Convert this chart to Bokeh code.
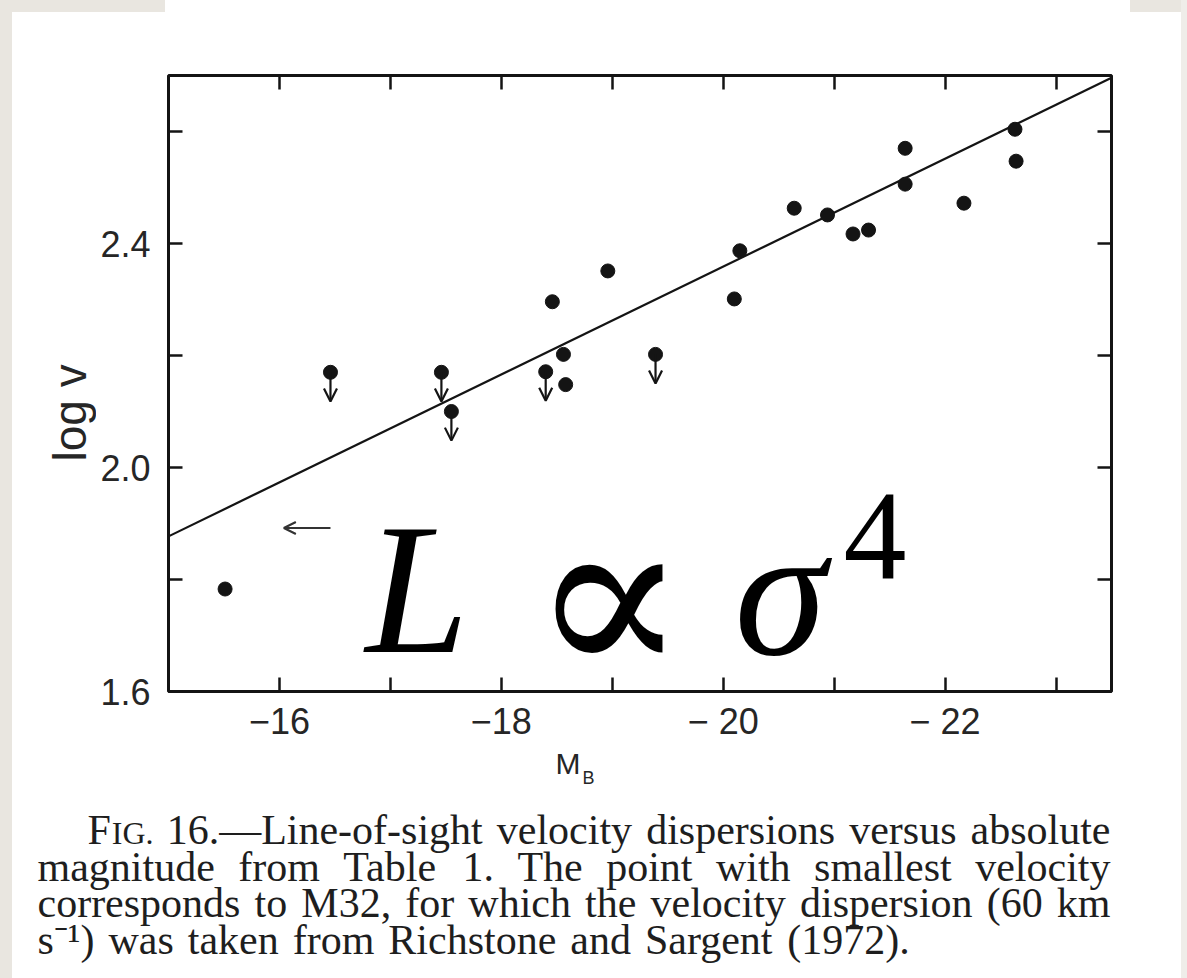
import math

from bokeh.embed import file_html
from bokeh.layouts import column, row
from bokeh.models import (Arrow, ColumnDataSource, CustomJSTickFormatter, FixedTicker,
                          Label, LinearAxis, OpenHead, Range1d, Spacer)
from bokeh.plotting import figure
from bokeh.resources import INLINE

# ---------------------------------------------------------------------------
# Data: absolute blue magnitude M_B and log of the line-of-sight velocity
# dispersion for the galaxies of Table 1.  Upper limits are flagged.
# ---------------------------------------------------------------------------
mag_b = [-15.51, -16.46, -17.46, -17.55, -18.40, -18.46, -18.56, -18.58, -18.96, -19.39,
         -20.10, -20.15, -20.64, -20.94, -21.17, -21.31, -21.64, -21.64, -22.17, -22.63,
         -22.64]
log_v = [1.783, 2.170, 2.170, 2.100, 2.171, 2.296, 2.202, 2.148, 2.351, 2.202,
         2.301, 2.387, 2.463, 2.451, 2.417, 2.424, 2.570, 2.506, 2.472, 2.604,
         2.547]
upper_limit = [False, True, True, True, True, False, False, False, False, True,
               False, False, False, False, False, False, False, False, False, False,
               False]

# L ~ sigma^4 relation drawn across the panel
fit_mag = [-15.0, -23.5]
fit_logv = [1.877, 2.696]

# horizontal arrow next to M32
m32_arrow_mag = [-16.46, -16.04]
m32_arrow_logv = [1.892, 1.892]

# axes
x_range = (-15.0, -23.5)
y_range = (1.6, 2.7)
x_ticks = [-16, -17, -18, -19, -20, -21, -22, -23]
x_label_ticks = [-16, -18, -20, -22]
x_tick_labels = ["\u221216", "\u221218", "\u2212 20", "\u2212 22"]
y_ticks = [1.6, 1.8, 2.0, 2.2, 2.4, 2.6]
y_label_ticks = [1.6, 2.0, 2.4]
y_tick_labels = ["1.6", "2.0", "2.4"]

caption_lines = [
    "FIG. 16.\u2014Line-of-sight velocity dispersions versus absolute",
    "magnitude from Table 1. The point with smallest velocity",
    "corresponds to M32, for which the velocity dispersion (60 km",
    "s\u207b\u00b9) was taken from Richstone and Sargent (1972).",
]

# ---------------------------------------------------------------------------
# Page geometry (pixels on the page)
# ---------------------------------------------------------------------------
PAGE_W, PAGE_H = 1187, 978
STRIP_L, STRIP_R, STRIP_T = 12, 6, 12
YLAB_W = 84                      # panel holding the rotated y title
PLOT_BOTTOM = 744                # plot panel ends here, caption panel below
FRAME_L, FRAME_R, FRAME_T, FRAME_B = 168, 1111, 75, 693
PLOT_X0 = STRIP_L + YLAB_W
PLOT_W = PAGE_W - STRIP_R - PLOT_X0
PLOT_H = PLOT_BOTTOM - STRIP_T
CAP_W = PAGE_W - STRIP_L - STRIP_R
CAP_H = PAGE_H - PLOT_BOTTOM
BASE_SHIFT = 0.33                # label baseline correction, in em

INK = "#141414"
TEXT = "#262626"
PAPER = "#e9e6e0"


def to_x(px):
    return x_range[0] + (px - FRAME_L) * (x_range[1] - x_range[0]) / (FRAME_R - FRAME_L)


def to_y(py):
    return y_range[0] + (FRAME_B - py) * (y_range[1] - y_range[0]) / (FRAME_B - FRAME_T)


def bare_panel(width, height):
    f = figure(width=width, height=height, x_range=Range1d(0, width),
               y_range=Range1d(height, 0), x_axis_location=None, y_axis_location=None,
               output_backend="svg", toolbar_location=None, min_border=0,
               background_fill_color="white", border_fill_color="white")
    f.grid.visible = False
    f.outline_line_color = None
    return f


# ---------------------------------------------------------------------------
# Main plot
# ---------------------------------------------------------------------------
p = figure(width=PLOT_W, height=PLOT_H,
           x_range=Range1d(*x_range), y_range=Range1d(*y_range),
           x_axis_location=None, y_axis_location=None,
           output_backend="svg", toolbar_location=None,
           min_border_left=FRAME_L - PLOT_X0, min_border_right=PAGE_W - STRIP_R - FRAME_R,
           min_border_top=FRAME_T - STRIP_T, min_border_bottom=PLOT_BOTTOM - FRAME_B,
           background_fill_color="white", border_fill_color="white")
p.grid.visible = False
p.outline_line_color = INK
p.outline_line_width = 3


def make_axis(ticks, label_ticks, labels, digits):
    lut = {f"{t:.{digits}f}": s for t, s in zip(label_ticks, labels)}
    ax = LinearAxis(ticker=FixedTicker(ticks=ticks, minor_ticks=[]),
                    formatter=CustomJSTickFormatter(
                        args=dict(lut=lut, digits=digits),
                        code="const k = tick.toFixed(digits); return (k in lut) ? lut[k] : '';"))
    ax.axis_line_color = None
    ax.major_tick_in = 14
    ax.major_tick_out = 0
    ax.major_tick_line_width = 2.5
    ax.major_tick_line_color = INK
    ax.minor_tick_line_color = None
    ax.major_label_text_font = "Liberation Sans"
    ax.major_label_text_font_size = "36px"
    ax.major_label_text_color = TEXT
    return ax


bottom = make_axis(x_ticks, x_label_ticks, x_tick_labels, 0)
bottom.major_label_standoff = 9
top = make_axis(x_ticks, [], [], 0)
top.major_label_text_font_size = "1px"
left = make_axis(y_ticks, y_label_ticks, y_tick_labels, 1)
left.major_label_standoff = 18
right = make_axis(y_ticks, [], [], 1)
right.major_label_text_font_size = "1px"
p.add_layout(bottom, "below")
p.add_layout(top, "above")
p.add_layout(left, "left")
p.add_layout(right, "right")

# fitted relation and measurements
p.line(fit_mag, fit_logv, line_width=2.2, line_color=INK)
p.scatter(mag_b, log_v, size=14, fill_color=INK, line_color=INK)

# upper limits: downward arrows hanging from the points
lim_x = [m for m, u in zip(mag_b, upper_limit) if u]
lim_y = [v for v, u in zip(log_v, upper_limit) if u]
lim_src = ColumnDataSource(dict(x=lim_x, y=lim_y, y_tip=[v - 0.052 for v in lim_y]))
p.add_layout(Arrow(x_start="x", y_start="y", x_end="x", y_end="y_tip", source=lim_src,
                   line_width=2.2, line_color=INK,
                   end=OpenHead(size=13, line_width=2.2, line_color=INK)))

p.add_layout(Arrow(x_start=m32_arrow_mag[0], y_start=m32_arrow_logv[0],
                   x_end=m32_arrow_mag[1], y_end=m32_arrow_logv[1],
                   line_width=2.2, line_color="#333333",
                   end=OpenHead(size=12, line_width=2.2, line_color="#333333")))

# large L ∝ σ^4 annotation: (text, left px, baseline px, font, style, size)
formula = [
    ("L", 365, 652, "Liberation Serif", "italic", 186),
    ("\u221d", 530, 676, "DejaVu Serif", "normal", 232),
    ("\u03c3", 734, 654, "Liberation Serif", "italic", 186),
    ("4", 843, 579, "Liberation Serif", "normal", 126),
]
for txt, px, py, font, style, size in formula:
    p.add_layout(Label(x=to_x(px), y=to_y(py - BASE_SHIFT * size), text=txt,
                       text_align="left", text_baseline="alphabetic", text_font=font,
                       text_font_style=style, text_font_size=f"{size}px",
                       text_color="black"))

# ---------------------------------------------------------------------------
# Rotated y-axis title panel
# ---------------------------------------------------------------------------
ylab = bare_panel(YLAB_W, PLOT_H)
YLAB_SIZE = 46
ylab.add_layout(Label(x=85 - STRIP_L - BASE_SHIFT * YLAB_SIZE, y=413 - STRIP_T, text="log v",
                      angle=math.pi / 2, text_align="center", text_baseline="alphabetic",
                      text_font="Liberation Sans", text_font_size=f"{YLAB_SIZE}px",
                      text_color=TEXT))

# ---------------------------------------------------------------------------
# Caption panel (x title M_B and the figure legend), Times metrics used
# to justify the first three caption lines
# ---------------------------------------------------------------------------
cap = bare_panel(CAP_W, CAP_H)


def cap_text(txt, px, py, size, font="Liberation Serif", color="#1e1e1e"):
    cap.add_layout(Label(x=px - STRIP_L, y=py - PLOT_BOTTOM - BASE_SHIFT * size, text=txt,
                         text_align="left", text_baseline="alphabetic", text_font=font,
                         text_font_size=f"{size}px", text_color=color))


cap_text("M", 555, 773, 30, font="Liberation Sans", color=TEXT)
cap_text("B", 582, 783, 18, font="Liberation Sans", color=TEXT)

TIMES_W = {
    " ": 250, "a": 444, "b": 500, "c": 444, "d": 500, "e": 444, "f": 333, "g": 500,
    "h": 500, "i": 278, "j": 278, "k": 500, "l": 278, "m": 778, "n": 500, "o": 500,
    "p": 500, "q": 500, "r": 333, "s": 389, "t": 278, "u": 500, "v": 500, "w": 722,
    "x": 500, "y": 500, "z": 444, "A": 722, "B": 667, "C": 667, "D": 722, "E": 611,
    "F": 556, "G": 722, "H": 722, "I": 333, "L": 611, "M": 889, "R": 667, "S": 556,
    "T": 611, ".": 250, ",": 250, "-": 333, "\u2014": 1000, "(": 333, ")": 333,
    "\u207b": 333, "\u00b9": 300,
}
for d in "0123456789":
    TIMES_W[d] = 500

CAP_SIZE = 42
SC_SIZE = 32
CAP_LEFT, CAP_RIGHT = 37, 1110
CAP_INDENT = 87
CAP_BASELINES = [843, 880, 916, 953]
LAST_GAP = 14


def tw(s, size):
    return sum(TIMES_W.get(ch, 500) for ch in s) * size / 1000.0


for i, line in enumerate(caption_lines):
    words = line.split(" ")
    start = CAP_INDENT if i == 0 else CAP_LEFT
    widths = [tw("F", CAP_SIZE) + tw("IG.", SC_SIZE) if w == "FIG." else tw(w, CAP_SIZE)
              for w in words]
    if i < len(caption_lines) - 1:
        gap = (CAP_RIGHT - start - sum(widths)) / (len(words) - 1)
    else:
        gap = LAST_GAP
    px = start
    for w, wd in zip(words, widths):
        if w == "FIG.":
            cap_text("F", px, CAP_BASELINES[i], CAP_SIZE)
            cap_text("IG.", px + tw("F", CAP_SIZE) + 1, CAP_BASELINES[i], SC_SIZE)
        else:
            cap_text(w, px, CAP_BASELINES[i], CAP_SIZE)
        px += wd + gap

# paper edges around the scanned page
top_edge = row(Spacer(width=165 - STRIP_L, height=STRIP_T, styles={"background-color": PAPER}),
               Spacer(width=1130 - 165, height=STRIP_T, styles={"background-color": "white"}),
               Spacer(width=PAGE_W - STRIP_R - 1130, height=STRIP_T,
                      styles={"background-color": PAPER}))

layout = row(Spacer(width=STRIP_L, height=PAGE_H, styles={"background-color": PAPER}),
             column(top_edge, row(ylab, p), cap),
             Spacer(width=STRIP_R, height=PAGE_H, styles={"background-color": "#efede9"}))

html = file_html(layout, INLINE, title="Velocity dispersion vs absolute magnitude")
html = html.replace("<body>", '<body style="margin:0;background:white">', 1)
open("out.html", "w").write(html)
